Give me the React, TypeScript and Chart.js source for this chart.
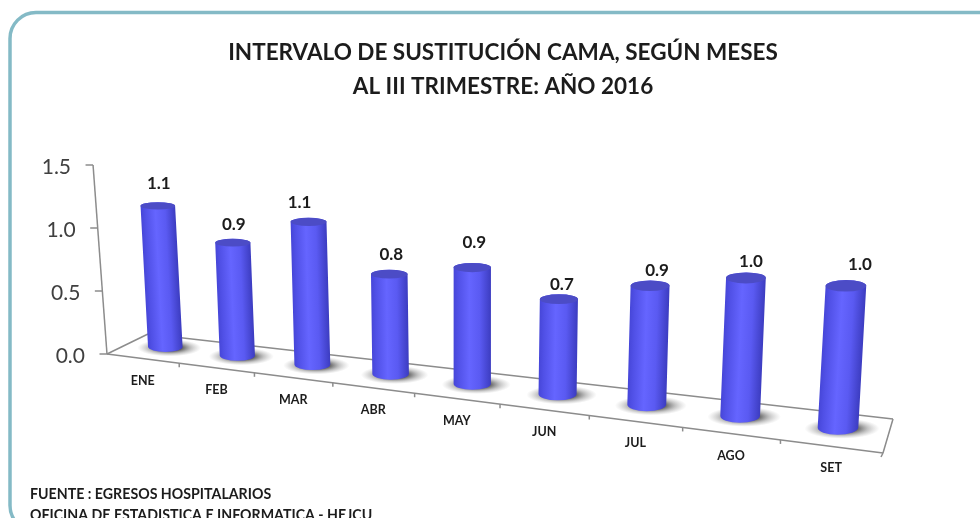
import React, { useEffect, useRef } from "react";
import { Chart, registerables, BarController, BarElement } from "chart.js";

Chart.register(...registerables);

const months = ["ENE", "FEB", "MAR", "ABR", "MAY", "JUN", "JUL", "AGO", "SET"];
const intervalo = [1.11, 0.875, 1.09, 0.75, 0.86, 0.69, 0.851, 0.97, 0.98];
const yTicks = [0, 0.5, 1, 1.5];
const titleLines = ["INTERVALO DE SUSTITUCIÓN CAMA, SEGÚN MESES", "AL III TRIMESTRE: AÑO 2016"];
const footerLines = ["FUENTE : EGRESOS HOSPITALARIOS", "OFICINA DE ESTADISTICA E INFORMATICA - HEJCU"];

// 3-D view used to project the library's scale positions on to the page
const KP = 0.179;
const FL = [107, 354], FR = [883, 453], BL = [148, 334], BR = [893, 419];
const DEPTH = 0.57;
const lerp = (a: number, b: number, p: number) => a + (b - a) * p;
const persp = (t: number) => (t / (1 - KP * t)) * (1 - KP);
const floorPt = (t: number, w: number) => {
  const p = persp(t);
  return [
    lerp(lerp(FL[0], BL[0], w), lerp(FR[0], BR[0], w), p),
    lerp(lerp(FL[1], BL[1], w), lerp(FR[1], BR[1], w), p),
  ];
};
const rise = (t: number, v: number, leanLeft = -7.5) => {
  const p = persp(t);
  return [lerp(leanLeft, 9.2, p) * v, lerp(-126, -146, p) * v];
};
const FONT = "Lato, 'Open Sans', sans-serif";

const tOf = (chart: any, x: number) => {
  const s = chart.scales.x;
  return (x - s.left) / s.width;
};

class CylinderElement extends BarElement {
  static id = "cylinder";
  draw(ctx: CanvasRenderingContext2D) {
    const { x, y, width } = this.getProps(["x", "y", "width"], true) as any;
    const chart = (this as any).ownerChart;
    const t = tOf(chart, x);
    const p = persp(t);
    const v = chart.scales.y.getValueForPixel(y);
    const [bx, by] = floorPt(t, DEPTH);
    const [dx, dy] = rise(t, v);
    const w = width * lerp(0.95, 1.14, p);
    const rx = w / 2;
    const ryB = lerp(5, 7.5, p);
    const ryT = lerp(3.5, 6, p);

    // floor shadow
    ctx.save();
    ctx.translate(bx + 4, by + 1);
    ctx.scale(1, 0.27);
    const sr = rx * 1.85;
    const sg = ctx.createRadialGradient(0, 0, rx * 0.7, 0, 0, sr);
    sg.addColorStop(0, "rgba(60,60,60,0.85)");
    sg.addColorStop(0.5, "rgba(110,110,110,0.4)");
    sg.addColorStop(1, "rgba(150,150,150,0)");
    ctx.fillStyle = sg;
    ctx.beginPath();
    ctx.arc(0, 0, sr, 0, Math.PI * 2);
    ctx.fill();
    ctx.restore();

    // body, upright in a sheared frame so that it leans with the view
    ctx.save();
    ctx.translate(bx, by);
    ctx.transform(1, 0, dx / dy, 1, 0, 0);
    const g = ctx.createLinearGradient(-rx, 0, rx, 0);
    g.addColorStop(0, "#4646d8");
    g.addColorStop(0.12, "#5050e6");
    g.addColorStop(0.42, "#6565ff");
    g.addColorStop(0.7, "#5a5af2");
    g.addColorStop(1, "#3c3cc0");
    ctx.fillStyle = g;
    ctx.beginPath();
    ctx.moveTo(-rx, dy);
    ctx.lineTo(-rx, 0);
    ctx.ellipse(0, 0, rx, ryB, 0, Math.PI, 0, true);
    ctx.lineTo(rx, dy);
    ctx.ellipse(0, dy, rx, ryT, 0, 0, Math.PI, true);
    ctx.closePath();
    ctx.fill();
    ctx.fillStyle = "#4c4cc6";
    ctx.beginPath();
    ctx.ellipse(0, dy, rx, ryT, 0, 0, Math.PI * 2);
    ctx.fill();
    ctx.restore();
  }
}

class CylinderController extends BarController {
  static id = "cylinder";
  static defaults = { ...BarController.defaults, dataElementType: "cylinder" };
  draw() {
    this.getMeta().data.forEach((el: any) => {
      el.ownerChart = this.chart;
    });
    super.draw();
  }
}
Chart.register(CylinderElement, CylinderController);

const framePlugin = {
  id: "frame",
  beforeDraw(chart: any) {
    const ctx = chart.ctx;
    ctx.save();
    ctx.fillStyle = "#ffffff";
    ctx.fillRect(0, 0, chart.width, chart.height);
    ctx.strokeStyle = "#84bac6";
    ctx.lineWidth = 3.5;
    ctx.beginPath();
    ctx.roundRect(10, 12.5, 1000, 519, 26);
    ctx.stroke();
    ctx.restore();
  },
  afterDraw(chart: any) {
    const ctx = chart.ctx;
    ctx.save();
    ctx.fillStyle = "#1c1c1c";
    ctx.font = `bold 14.2px ${FONT}`;
    ctx.textBaseline = "middle";
    ctx.textAlign = "left";
    footerLines.forEach((l, i) => ctx.fillText(l, 30, 494 + i * 21));
    ctx.restore();
  },
};

const wallsPlugin = {
  id: "walls",
  beforeDatasetsDraw(chart: any) {
    const ctx = chart.ctx;
    const yS = chart.scales.y;
    const seg = (a: number[], b: number[]) => {
      ctx.beginPath();
      ctx.moveTo(a[0], a[1]);
      ctx.lineTo(b[0], b[1]);
      ctx.stroke();
    };
    ctx.save();
    ctx.strokeStyle = "#8c8c8c";
    ctx.lineWidth = 1.5;
    seg(FL, FR);
    seg(BL, BR);
    seg(FL, BL);
    seg(FR, BR);
    const top = (v: number) => {
      const [dx, dy] = rise(0, v, -9.3);
      return [FL[0] + dx, FL[1] + dy];
    };
    seg(FL, top(yS.max));
    ctx.textBaseline = "middle";
    yTicks.forEach((v) => {
      const a = top(v);
      seg(a, [a[0] - 7.5, a[1]]);
      ctx.fillStyle = "#404040";
      ctx.font = `21px ${FONT}`;
      ctx.textAlign = "right";
      ctx.fillText(v.toFixed(1), a[0] - 22, a[1] + 2);
    });
    const xS = chart.scales.x;
    months.forEach((m, i) => {
      const tk = floorPt(i / months.length, 0);
      if (i > 0) seg(tk, [tk[0], tk[1] + 4]);
      const c = floorPt(tOf(chart, xS.getPixelForValue(i)), 0);
      ctx.fillStyle = "#1c1c1c";
      ctx.font = `bold 12.5px ${FONT}`;
      ctx.textAlign = "center";
      ctx.fillText(m, c[0], c[1] + 22);
    });
    seg(FR, [FR[0] - 2, FR[1] + 4]);
    ctx.restore();
  },
  afterDatasetsDraw(chart: any, _a: any, opts: any) {
    const ctx = chart.ctx;
    const meta = chart.getDatasetMeta(0);
    ctx.save();
    ctx.fillStyle = "#1c1c1c";
    ctx.font = `bold 17px ${FONT}`;
    ctx.textAlign = "center";
    ctx.textBaseline = "middle";
    meta.data.forEach((el: any, i: number) => {
      const t = tOf(chart, el.x);
      const v = intervalo[i];
      const [bx, by] = floorPt(t, DEPTH);
      const [dx, dy] = rise(t, v);
      ctx.fillText(v.toFixed(1), bx + dx + opts.shiftX[i], by + dy - 22 + opts.shiftY[i]);
    });
    ctx.restore();
  },
};

export default function App() {
  const ref = useRef<HTMLCanvasElement>(null);
  useEffect(() => {
    const chart = new Chart(ref.current!, {
      type: "cylinder" as any,
      plugins: [framePlugin, wallsPlugin],
      data: {
        labels: months,
        datasets: [{ data: intervalo, barPercentage: 0.34, categoryPercentage: 1 }],
      },
      options: {
        animation: false,
        responsive: false,
        layout: { padding: { left: 26, right: 0, top: 36, bottom: 60 } },
        scales: {
          x: { display: false, grid: { display: false } },
          y: { display: false, min: 0, max: 1.5, grid: { display: false } },
        },
        plugins: {
          legend: { display: false },
          tooltip: { enabled: false },
          walls: {
            shiftX: [1, 1, -9, 2, 2, 3, 7, 5, 14],
            shiftY: [0, 4, 3, 2, -3, 7, 7, 6, 1],
          },
          title: {
            display: true,
            text: titleLines,
            color: "#1c1c1c",
            font: { family: FONT, size: 22.5, weight: "bold", lineHeight: 1.5 },
            padding: { top: 0, bottom: 10 },
          },
        } as any,
      },
    } as any);
    return () => chart.destroy();
  }, []);
  return (
    <div style={{ position: "absolute", left: 0, top: 0, width: 980, height: 518, overflow: "hidden" }}>
      <canvas ref={ref} width={980} height={518} style={{ display: "block", filter: "blur(0.4px)" }} />
    </div>
  );
}
